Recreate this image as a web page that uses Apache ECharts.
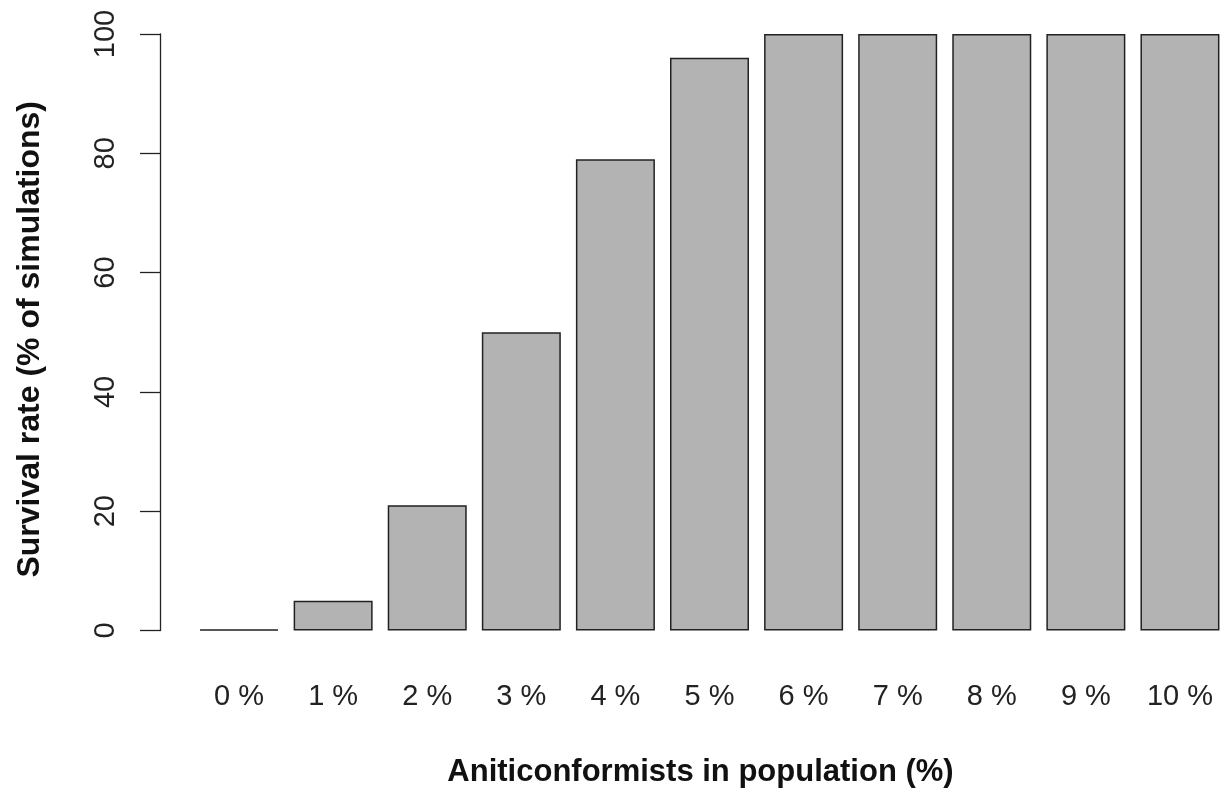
<!DOCTYPE html>
<html>
<head>
<meta charset="utf-8">
<script src="https://cdn.jsdelivr.net/npm/echarts@6/dist/echarts.min.js"></script>
<style>html,body{margin:0;padding:0;background:#fff;}#chart{width:1227px;height:793px;}</style>
</head>
<body>
<div id="chart"></div>
<script>
const categories = ['0 %','1 %','2 %','3 %','4 %','5 %','6 %','7 %','8 %','9 %','10 %'];
const survivalRate = [0, 5, 21, 50, 79, 96, 100, 100, 100, 100, 100];
const xTitle = 'Aniticonformists in population (%)';
const yTitle = 'Survival rate (% of simulations)';

const chart = echarts.init(document.getElementById('chart'));
const font = 'Liberation Sans, Arial, Helvetica, sans-serif';
chart.setOption({
  animation: false,
  grid: { left: 192, right: 0, top: 34, bottom: 161 },
  xAxis: {
    type: 'category',
    data: categories,
    axisLine: { show: false },
    axisTick: { show: false },
    axisLabel: { fontFamily: font, fontSize: 29, color: '#222', margin: 52, lineHeight: 29 },
    name: xTitle,
    nameLocation: 'middle',
    nameGap: 142,
    nameTextStyle: { fontFamily: font, fontSize: 31, fontWeight: 'bold', color: '#111', verticalAlign: 'middle', padding: [0, 18, 0, 0] }
  },
  yAxis: {
    type: 'value',
    min: 0, max: 100, interval: 20,
    offset: 32,
    axisLine: { show: true, lineStyle: { color: '#222', width: 1.3 } },
    axisTick: { show: true, length: 20, lineStyle: { color: '#222', width: 1.3 } },
    splitLine: { show: false },
    axisLabel: { fontFamily: font, fontSize: 29, color: '#222', rotate: 90, margin: 40 },
    name: yTitle,
    nameLocation: 'middle',
    nameGap: 130,
    nameTextStyle: { fontFamily: font, fontSize: 32, fontWeight: 'bold', color: '#111', verticalAlign: 'middle', padding: [0, 14, 0, 0] }
  },
  series: [{
    type: 'bar',
    data: survivalRate,
    barWidth: 79,
    barMinHeight: 1,
    itemStyle: { color: '#b3b3b3', borderColor: '#222', borderWidth: 1.5 }
  }]
});
</script>
</body>
</html>
